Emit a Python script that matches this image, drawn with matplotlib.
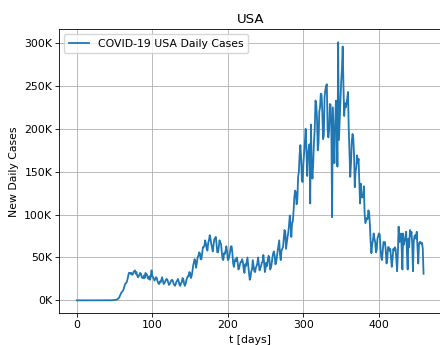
import numpy as np
import matplotlib.pyplot as plt
from matplotlib.ticker import FuncFormatter

# daily new cases in thousands, one row per week (day 0 = first record)
daily_cases_k = [
    0, 0, 0, 0, 0, 0, 0,
    0, 0, 0, 0, 0, 0, 0,
    0, 0, 0, 0, 0, 0, 0,
    0, 0, 0, 0, 0, 0, 0,
    0, 0, 0, 0, 0, 0, 0,
    0, 0, 0, 0, 0, 0, 0.1,
    0.0, 0.0, 0.1, 0.1, 0.1, 0.1, 0.2,
    0.3, 0.4, 0.5, 0.7, 0.9, 1.3, 2.1,
    3, 5, 7, 9, 10, 11, 13,
    16, 19, 20, 21, 24, 28, 32,
    32, 31, 32, 30, 30, 33, 34,
    35, 31, 33, 29, 27, 28, 30,
    32, 31, 27, 26, 26, 29, 26,
    32, 30, 30, 26, 25, 28, 24,
    28, 35, 28, 27, 25, 23, 25,
    27, 26, 22, 20, 19, 22, 21,
    24, 27, 23, 19, 20, 22, 24,
    25, 24, 21, 18, 19, 21, 23,
    24, 23, 20, 18, 17, 19, 22,
    23, 25, 22, 18, 17, 20, 21,
    26, 25, 20, 17, 19, 23, 26,
    28, 28, 33, 32, 26, 28, 33,
    40, 44, 48, 45, 38, 44, 50,
    52, 56, 55, 48, 48, 55, 62,
    62, 64, 70, 66, 60, 58, 67,
    70, 76, 72, 66, 62, 57, 64,
    71, 72, 74, 66, 56, 56, 62,
    70, 67, 66, 56, 48, 47, 55,
    54, 58, 63, 57, 47, 48, 52,
    57, 63, 63, 55, 43, 39, 45,
    48, 46, 50, 44, 36, 38, 42,
    45, 45, 48, 44, 36, 32, 42,
    40, 45, 50, 40, 32, 24, 27,
    34, 36, 47, 40, 34, 33, 38,
    40, 43, 50, 42, 35, 38, 40,
    44, 45, 53, 44, 33, 38, 44,
    40, 48, 52, 48, 36, 38, 43,
    50, 55, 57, 52, 42, 45, 52,
    58, 64, 70, 54, 47, 58, 60,
    62, 72, 82, 80, 60, 67, 74,
    79, 88, 99, 88, 74, 90, 92,
    105, 120, 128, 126, 112, 118, 144,
    150, 170, 181, 166, 140, 138, 160,
    172, 185, 200, 175, 145, 170, 177,
    182, 113, 205, 155, 142, 160, 185,
    200, 233, 228, 212, 175, 183, 220,
    225, 241, 240, 220, 188, 192, 237,
    245, 250, 252, 200, 190, 198, 229,
    228, 200, 97, 225, 190, 160, 200,
    233, 228, 156, 301, 187, 210, 235,
    255, 270, 296, 250, 215, 230, 225,
    229, 235, 243, 200, 170, 144, 160,
    185, 194, 190, 170, 132, 150, 155,
    169, 160, 165, 140, 113, 136, 120,
    122, 120, 133, 102, 90, 93, 96,
    95, 105, 102, 88, 68, 55, 65,
    70, 78, 72, 68, 56, 59, 72,
    75, 78, 77, 62, 50, 47, 58,
    68, 66, 68, 58, 43, 48, 62,
    62, 58, 60, 50, 39, 48, 60,
    58, 62, 60, 48, 34, 55, 86,
    68, 70, 78, 62, 36, 78, 65,
    70, 72, 80, 56, 36, 72, 62,
    82, 75, 80, 66, 34, 68, 75,
    76, 72, 80, 62, 43, 66, 68,
    68, 66, 67, 60, 31,
]

country = "USA"
series_label = "COVID-19 USA Daily Cases"

cases = np.array(daily_cases_k) * 1000.0
t = np.arange(len(cases))

fs = 7.8
fig = plt.figure(figsize=(4.4, 3.45), dpi=100)
ax = fig.add_axes([0.135, 0.092, 0.867, 0.823])

ax.plot(t, cases, color="#1f77b4", linewidth=1.3, label=series_label)
ax.set_title(country, fontsize=9.6, pad=4.5)
ax.set_xlabel("t [days]", fontsize=fs, labelpad=3.5)
ax.set_ylabel("New Daily Cases", fontsize=fs, labelpad=4)
ax.yaxis.set_major_formatter(FuncFormatter(lambda v, p: f"{v / 1000:.0f}K"))
ax.set_yticks([0, 50000, 100000, 150000, 200000, 250000, 300000])
ax.set_xticks([0, 100, 200, 300, 400])
ax.tick_params(labelsize=fs, width=0.6, length=2.6, pad=2.6)
ax.grid(True, color="#b0b0b0", linewidth=0.6)
for s in ax.spines.values():
    s.set_linewidth(0.6)
ax.legend(loc="upper left", fontsize=fs, framealpha=0.8, borderaxespad=0.45,
          handlelength=1.9)

fig.savefig("out.png", dpi=100)
